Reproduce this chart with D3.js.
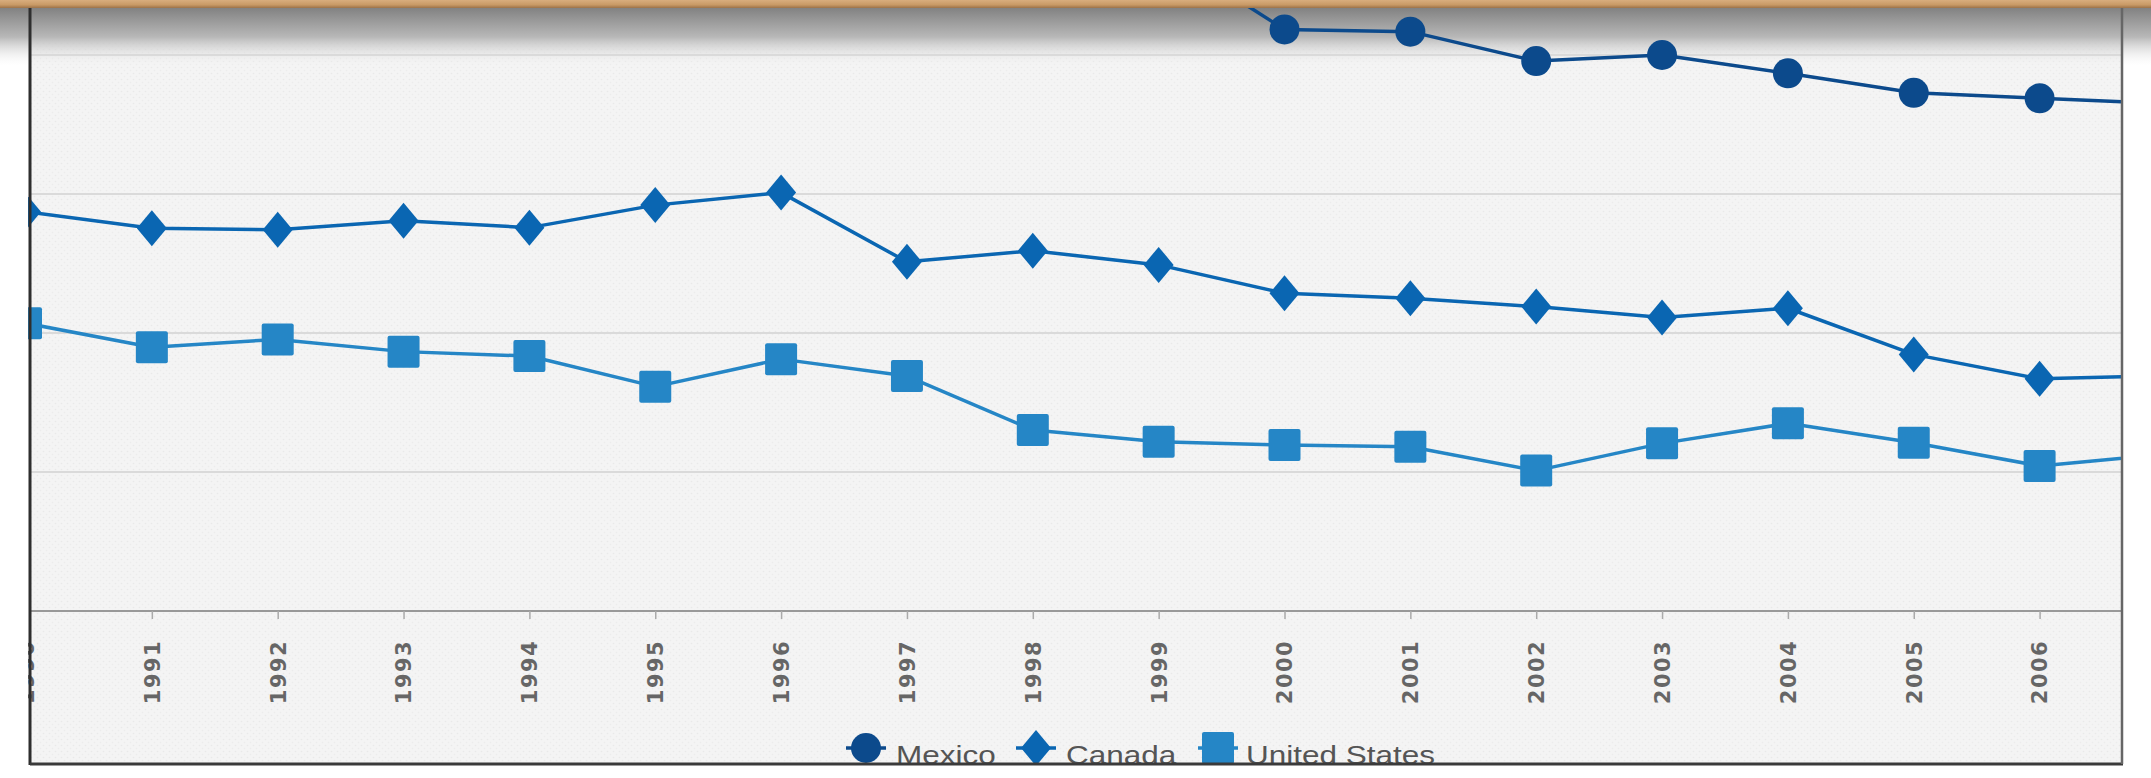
<!DOCTYPE html>
<html>
<head>
<meta charset="utf-8">
<script src="https://cdn.jsdelivr.net/npm/d3@7"></script>
<style>
  html, body { margin: 0; padding: 0; background: #ffffff; }
  svg { display: block; }
</style>
</head>
<body>
<svg id="chart" width="2151" height="778"></svg>
<script>
// ---- Data ----
const years = [1990, 1991, 1992, 1993, 1994, 1995, 1996, 1997, 1998, 1999,
               2000, 2001, 2002, 2003, 2004, 2005, 2006, 2007];
const seriesNames = ["Mexico", "Canada", "United States"];
const mexicoValues = [null, null, null, null, null, null, null, null, null, 23.8,
                      20.92, 20.84, 19.78, 20.0, 19.34, 18.64, 18.44, 18.26];
const canadaValues = [14.36, 13.77, 13.71, 14.04, 13.79, 14.60, 15.05, 12.56, 12.96, 12.45,
                      11.43, 11.25, 10.95, 10.56, 10.89, 9.23, 8.35, 8.47];
const usValues = [10.35, 9.49, 9.77, 9.33, 9.17, 8.07, 9.06, 8.45, 6.51, 6.09,
                  5.97, 5.91, 5.05, 6.03, 6.75, 6.05, 5.22, 5.64];
const gridValues = [0, 5, 10, 15, 20];
const tickYears = [1990, 1991, 1992, 1993, 1994, 1995, 1996, 1997, 1998, 1999,
                   2000, 2001, 2002, 2003, 2004, 2005, 2006];

// ---- Layout / style ----
const W = 2151, H = 778;
const plotLeft = 30, plotRight = 2122, plotTop = 8, plotBottom = 764;
const colors = { "Mexico": "#0c4a8c", "Canada": "#0a66b2", "United States": "#2586c6" };

const svg = d3.select("#chart");
const defs = svg.append("defs");

// gradients
const shadow = defs.append("linearGradient").attr("id", "shadow")
  .attr("x1", 0).attr("y1", 0).attr("x2", 0).attr("y2", 1);
shadow.append("stop").attr("offset", "0%").attr("stop-color", "#828282").attr("stop-opacity", 1);
shadow.append("stop").attr("offset", "50%").attr("stop-color", "#b8b8b8").attr("stop-opacity", 1);
shadow.append("stop").attr("offset", "100%").attr("stop-color", "#f3f3f3").attr("stop-opacity", 0);

const wood = defs.append("linearGradient").attr("id", "wood")
  .attr("x1", 0).attr("y1", 0).attr("x2", 0).attr("y2", 1);
wood.append("stop").attr("offset", "0%").attr("stop-color", "#d8ad7e");
wood.append("stop").attr("offset", "60%").attr("stop-color", "#c99a66");
wood.append("stop").attr("offset", "100%").attr("stop-color", "#9c7248");

// subtle texture
const pat = defs.append("pattern").attr("id", "tex").attr("patternUnits", "userSpaceOnUse")
  .attr("width", 6).attr("height", 6);
pat.append("rect").attr("width", 6).attr("height", 6).attr("fill", "#f4f4f4");
pat.append("circle").attr("cx", 1.5).attr("cy", 1.5).attr("r", 0.8).attr("fill", "#e9e9e9");
pat.append("circle").attr("cx", 4.5).attr("cy", 4.5).attr("r", 0.8).attr("fill", "#ececec");

defs.append("clipPath").attr("id", "plotClip")
  .append("rect").attr("x", plotLeft - 2).attr("y", 0)
  .attr("width", plotRight - plotLeft + 2).attr("height", plotBottom);

// scales
const x = d3.scalePoint().domain(years).range([26, 26 + 17 * 125.85]);
const y = d3.scaleLinear().domain([0, 20]).range([611, 55]);

// background
svg.append("rect").attr("x", 0).attr("y", 0).attr("width", W).attr("height", H).attr("fill", "#ffffff");
svg.append("rect").attr("x", plotLeft).attr("y", plotTop)
  .attr("width", plotRight - plotLeft).attr("height", plotBottom - plotTop).attr("fill", "url(#tex)");

// top shadow (full width), under the data
svg.append("rect").attr("x", 0).attr("y", plotTop).attr("width", W).attr("height", 58)
  .attr("fill", "url(#shadow)");

const plot = svg.append("g").attr("clip-path", "url(#plotClip)");

// gridlines
plot.append("g").selectAll("line").data(gridValues.filter(v => v > 0)).join("line")
  .attr("x1", plotLeft).attr("x2", plotRight)
  .attr("y1", d => y(d)).attr("y2", d => y(d))
  .attr("stroke", "#dadada").attr("stroke-width", 2);

// x axis
const xAxis = d3.axisBottom(x).tickValues(tickYears).tickSize(8).tickSizeOuter(0);
const axG = plot.append("g").attr("transform", `translate(0,${y(0)})`).call(xAxis);
axG.select(".domain").attr("stroke", "#999").attr("stroke-width", 2)
  .attr("d", `M${plotLeft},0H${plotRight}`);
axG.selectAll(".tick line").attr("stroke", "#aaa").attr("stroke-width", 1.5);
axG.selectAll(".tick text")
  .attr("y", 0).attr("dy", "0.35em").attr("x", 0)
  .attr("transform", "translate(0,61) rotate(-90)")
  .attr("text-anchor", "middle")
  .style("font-family", "'DejaVu Sans', sans-serif")
  .style("font-weight", "bold")
  .style("font-size", "21px")
  .style("letter-spacing", "1.5px")
  .attr("fill", "#666");

// series
const series = [
  { name: "Mexico", values: mexicoValues, shape: "circle" },
  { name: "Canada", values: canadaValues, shape: "diamond" },
  { name: "United States", values: usValues, shape: "square" }
];

function drawMarker(g, shape, color) {
  if (shape === "circle") {
    g.append("circle").attr("r", 15).attr("fill", color);
  } else if (shape === "diamond") {
    g.append("path").attr("d", "M0,-18L15,0L0,18L-15,0Z").attr("fill", color);
  } else {
    g.append("rect").attr("x", -16).attr("y", -16).attr("width", 32).attr("height", 32)
      .attr("rx", 2).attr("fill", color);
  }
}

const line = d3.line().defined(d => d.v !== null).x(d => x(d.year)).y(d => y(d.v));

series.forEach(s => {
  const pts = years.map((yr, i) => ({ year: yr, v: s.values[i] }));
  const color = colors[s.name];
  plot.append("path").datum(pts).attr("d", line)
    .attr("fill", "none").attr("stroke", color).attr("stroke-width", 3.5)
    .attr("stroke-linejoin", "round");
  const mg = plot.append("g");
  pts.filter(d => d.v !== null).forEach(d => {
    const g = mg.append("g").attr("transform", `translate(${x(d.year)},${y(d.v)})`);
    drawMarker(g, s.shape, color);
  });
});

// legend
const legendMarkerX = { "Mexico": 866, "Canada": 1036, "United States": 1218 };
const legendTextX = { "Mexico": 896, "Canada": 1066, "United States": 1246 };
const legendY = 748;
series.forEach(s => {
  const color = colors[s.name];
  const mx = legendMarkerX[s.name];
  svg.append("line").attr("x1", mx - 20).attr("x2", mx + 20)
    .attr("y1", legendY).attr("y2", legendY)
    .attr("stroke", color).attr("stroke-width", 3.5);
  const g = svg.append("g").attr("transform", `translate(${mx},${legendY})`);
  drawMarker(g, s.shape, color);
  svg.append("g").attr("transform", `translate(${legendTextX[s.name]},764) scale(1.26,1)`)
    .append("text").text(s.name)
    .style("font-family", "'Liberation Sans', Arial, sans-serif")
    .style("font-size", "25px")
    .attr("fill", "#555");
});

// cover below bottom border
svg.append("rect").attr("x", 0).attr("y", plotBottom).attr("width", W).attr("height", H - plotBottom)
  .attr("fill", "#ffffff");

// borders
svg.append("line").attr("x1", plotLeft).attr("x2", plotLeft).attr("y1", plotTop).attr("y2", plotBottom + 1)
  .attr("stroke", "#2e2e2e").attr("stroke-width", 3);
svg.append("line").attr("x1", plotLeft).attr("x2", plotRight + 1).attr("y1", plotBottom).attr("y2", plotBottom)
  .attr("stroke", "#3a3a3a").attr("stroke-width", 3);
svg.append("line").attr("x1", plotRight).attr("x2", plotRight).attr("y1", plotTop).attr("y2", plotBottom)
  .attr("stroke", "#666").attr("stroke-width", 2.5);

// top wooden bar
svg.append("rect").attr("x", 0).attr("y", 0).attr("width", W).attr("height", plotTop)
  .attr("fill", "url(#wood)");
</script>
</body>
</html>
